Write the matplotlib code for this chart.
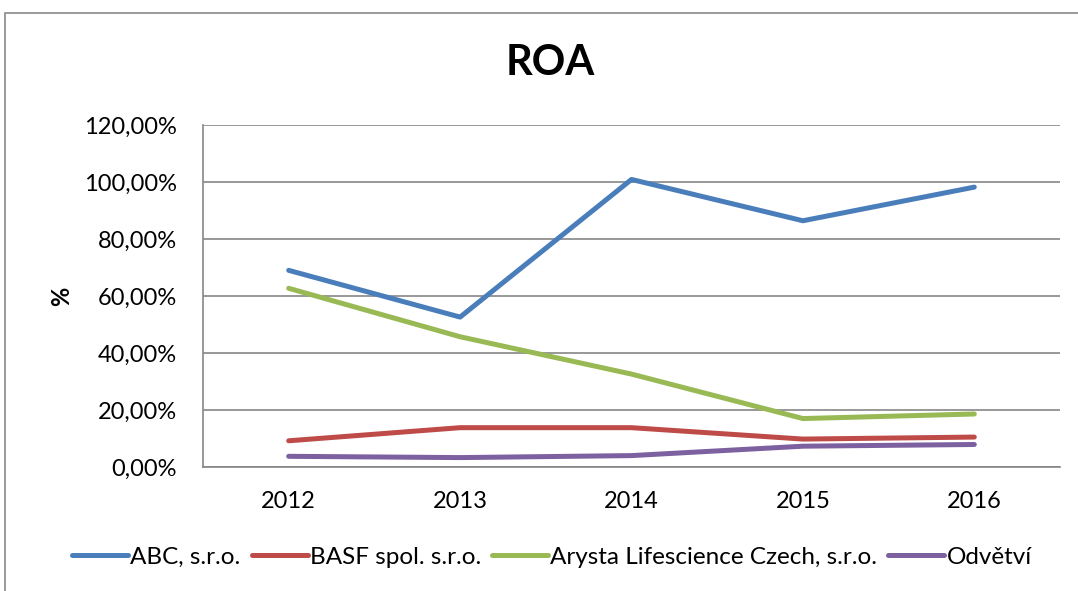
import matplotlib
matplotlib.use("Agg")
import matplotlib.pyplot as plt
from matplotlib.patches import Rectangle
from matplotlib.ticker import FuncFormatter, MultipleLocator

years = ["2012", "2013", "2014", "2015", "2016"]
abc = [69.0, 52.6, 100.9, 86.4, 98.2]
basf = [9.2, 13.8, 13.8, 9.8, 10.5]
arysta = [62.7, 45.7, 32.6, 17.0, 18.6]
odvetvi = [3.75, 3.3, 4.0, 7.3, 7.9]

series = [
    ("ABC, s.r.o.", abc, "#4a7ebb"),
    ("BASF spol. s.r.o.", basf, "#be4b48"),
    ("Arysta Lifescience Czech, s.r.o.", arysta, "#98b954"),
    ("Odvětví", odvetvi, "#7d60a0"),
]

plt.rcParams['font.family'] = ['Lato', 'DejaVu Sans']

fig = plt.figure(figsize=(10.78, 5.91), dpi=100)
ax = fig.add_axes([203/1078, 1-467/591, (1060-203)/1078, (467-125)/591])

x = list(range(len(years)))
for name, vals, col in series:
    ax.plot(x, vals, color=col, lw=3.6, solid_capstyle='round',
            solid_joinstyle='round', label=name)

ax.set_xlim(-0.5, len(years) - 0.5)
ax.set_ylim(0, 120)
ax.yaxis.set_major_locator(MultipleLocator(20))
ax.yaxis.set_major_formatter(FuncFormatter(lambda v, p: f"{v:.2f}".replace('.', ',') + "%"))
ax.set_xticks(x)
ax.set_xticklabels(years)
ax.grid(axis='y', color='#868686', lw=1.2)
ax.set_axisbelow(True)
for s in ['top', 'right']:
    ax.spines[s].set_visible(False)
for s in ['left', 'bottom']:
    ax.spines[s].set_color('#868686')
    ax.spines[s].set_linewidth(1.2)
ax.tick_params(axis='both', length=0, labelsize=17, colors='black')
ax.tick_params(axis='y', pad=19)
ax.tick_params(axis='x', pad=17)

fig.text(62/1078, 1-296/591, "%", rotation=90, fontsize=17, fontweight='bold',
         ha='center', va='center')
fig.text(550/1078, 1-63/591, "ROA", fontsize=30, fontweight='bold',
         ha='center', va='center')

leg = fig.legend(loc='center', bbox_to_anchor=(552/1078, 1-557/591), ncol=4,
                 frameon=False, fontsize=17.5, handlelength=2.3,
                 handletextpad=0.1, columnspacing=0.45)

fig.patches.append(Rectangle((5/1078, -0.1), 1.2, 1.1 - 13/591, transform=fig.transFigure,
                             fill=False, edgecolor='#898989', lw=1.2))

fig.savefig("out.png", dpi=100)
